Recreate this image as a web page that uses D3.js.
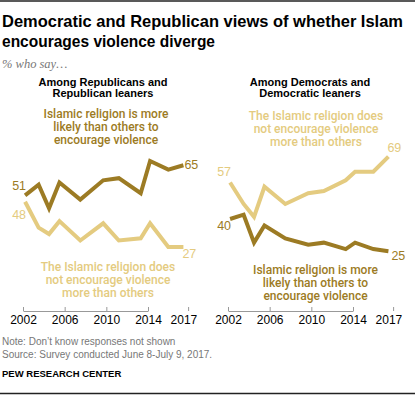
<!DOCTYPE html>
<html>
<head>
<meta charset="utf-8">
<script src="https://cdn.jsdelivr.net/npm/d3@7"></script>
<style>
  body { margin: 0; background: #fff; }
  svg { display: block; font-family: Arial, 'Liberation Sans', sans-serif; }
</style>
</head>
<body>
<div class="container"></div>
<script>
// survey dates (decimal years)
const surveyDates = [2002.2, 2003.5, 2004.5, 2005.5, 2007.5, 2009.7, 2011.2, 2013.3, 2014.2, 2015.95, 2017.4];
const tickYears = [2002, 2006, 2010, 2014];
const lastYearLabel = '2017';

// Republicans and Republican leaners
const repMoreLikely = [51, 56, 45, 57, 49, 58, 59, 52, 67, 63, 65];
const repNotMore = [48, 36, 33, 39, 30, 38, 30, 31, 38, 27, 27];

// Democrats and Democratic leaners
const demNotMore = [57, 47, 41, 55, 47, 52, 53, 58, 62, 62, 69];
const demMoreLikely = [40, 42, 29, 37, 31, 28, 29, 26, 29, 26, 25];

const titleLines = ['Democratic and Republican views of whether Islam', 'encourages violence diverge'];
const subtitle = '% who say…';
const panelTitles = [['Among Republicans and', 'Republican leaners'], ['Among Democrats and', 'Democratic leaners']];
const moreLikelyText = ['Islamic religion is more', 'likely than others to', 'encourage violence'];
const notMoreText = ['The Islamic religion does', 'not encourage violence', 'more than others'];
const notes = ['Note: Don\u2019t know responses not shown', 'Source: Survey conducted June 8-July 9, 2017.'];
const credit = 'PEW RESEARCH CENTER';

const width = 415, height = 396;
const dark = '#9c7b24', light = '#e4cb80';

const svg = d3.select('.container')
    .append('svg')
    .attr('width', width)
    .attr('height', height);

svg.append('line')
    .attr('x1', 0).attr('x2', width)
    .attr('y1', 1).attr('y2', 1)
    .attr('stroke', '#222').attr('stroke-width', 1.5);

svg.append('line')
    .attr('x1', 0).attr('x2', width)
    .attr('y1', 393.5).attr('y2', 393.5)
    .attr('stroke', '#222').attr('stroke-width', 1.5);

const titleWidths = [401, 213];
svg.append('g')
    .selectAll('text')
    .data(titleLines)
    .join('text')
    .attr('x', 2)
    .attr('y', (d, i) => 27 + i * 20)
    .attr('font-size', 16.5)
    .attr('font-weight', 'bold')
    .attr('fill', '#000')
    .attr('textLength', (d, i) => titleWidths[i])
    .attr('lengthAdjust', 'spacingAndGlyphs')
    .text(d => d);

svg.append('text')
    .attr('x', 2)
    .attr('y', 68)
    .attr('font-family', 'Georgia, "Liberation Serif", serif')
    .attr('font-style', 'italic')
    .attr('font-size', 12.5)
    .attr('fill', '#777')
    .text(subtitle);

const y = d3.scaleLinear().domain([0, 100]).range([305, 90]);

function multiline(g, lines, cx, y0, color, size, weight, lh, family) {
    g.append('text')
        .attr('text-anchor', 'middle')
        .attr('font-size', size)
        .attr('font-weight', weight)
        .attr('font-family', family || null)
        .attr('fill', color)
        .selectAll('tspan')
        .data(lines)
        .join('tspan')
        .attr('x', cx)
        .attr('y', (d, i) => y0 + i * lh)
        .text(d => d);
}

function panel(offset, heading, topSeries, bottomSeries, topColor, bottomColor, topText, bottomText, opts) {
    const g = svg.append('g').attr('transform', `translate(${offset},0)`);
    const x = d3.scaleLinear().domain([2002, 2014]).range([23, 148]);
    const axisEnd = 2017.85;

    const axis = d3.axisBottom(x)
        .tickValues(tickYears.concat([axisEnd]))
        .tickSize(-4)
        .tickSizeOuter(0)
        .tickPadding(4.5)
        .tickFormat((d, i) => i === tickYears.length ? lastYearLabel : d);

    const ax = g.append('g')
        .attr('transform', 'translate(0,311)')
        .call(axis);
    ax.select('.domain').attr('stroke', '#999');
    ax.selectAll('.tick line').attr('stroke', '#999');
    ax.selectAll('.tick text')
        .attr('font-size', 12)
        .attr('font-family', 'Arial, "Liberation Sans", sans-serif')
        .attr('fill', '#000');
    ax.selectAll('.tick text')
        .filter((d, i) => i === tickYears.length)
        .attr('x', x(surveyDates[surveyDates.length - 1]) - x(axisEnd));

    multiline(g, heading, opts.headX, 86, '#000', 11, 'bold', 10.8);

    const line = d3.line()
        .x((d, i) => x(surveyDates[i]))
        .y(d => y(d));

    [[bottomSeries, bottomColor], [topSeries, topColor]].forEach(([s, c]) => {
        g.append('path')
            .datum(s)
            .attr('fill', 'none')
            .attr('stroke', c)
            .attr('stroke-width', 4)
            .attr('stroke-linejoin', 'miter')
            .attr('d', line);
    });

    const annFont = 'Roboto, Arial, sans-serif';
    multiline(g, topText, opts.topX, opts.topY, topColor, 12, 500, 13, annFont);
    multiline(g, bottomText, opts.botX, opts.botY, bottomColor, 12, 500, 13, annFont);

    const n = surveyDates.length - 1;
    const labels = [
        {v: topSeries[0], x: x(surveyDates[0]) + 1, y: y(topSeries[0]) + opts.topStartDy, anchor: 'end', c: topColor},
        {v: bottomSeries[0], x: x(surveyDates[0]) + 1, y: y(bottomSeries[0]) + opts.botStartDy, anchor: 'end', c: bottomColor},
        {v: topSeries[n], x: x(surveyDates[n]) + opts.topEndDx, y: y(topSeries[n]) + opts.topEndDy, anchor: 'start', c: topColor},
        {v: bottomSeries[n], x: x(surveyDates[n]) + opts.botEndDx, y: y(bottomSeries[n]) + opts.botEndDy, anchor: 'start', c: bottomColor}
    ];
    g.append('g')
        .selectAll('text')
        .data(labels)
        .join('text')
        .attr('x', d => d.x)
        .attr('y', d => d.y)
        .attr('text-anchor', d => d.anchor)
        .attr('font-size', 12.5)
        .attr('fill', d => d.c)
        .text(d => d.v);
}

panel(0, panelTitles[0], repMoreLikely, repNotMore, dark, light, moreLikelyText, notMoreText, {
    headX: 103, topX: 106, topY: 118, botX: 108, botY: 271,
    topStartDy: -5, botStartDy: 17, topEndDx: 1, topEndDy: 4, botEndDx: -1, botEndDy: 11
});

panel(205, panelTitles[1], demNotMore, demMoreLikely, light, dark, notMoreText, moreLikelyText, {
    headX: 105, topX: 111, topY: 120, botX: 110.5, botY: 274,
    topStartDy: -6, botStartDy: 11, topEndDx: -1, topEndDy: -5, botEndDx: 3, botEndDy: 9
});

svg.append('g')
    .selectAll('text')
    .data(notes)
    .join('text')
    .attr('x', 2)
    .attr('y', (d, i) => 345 + i * 13.3)
    .attr('font-size', 10)
    .attr('fill', '#777')
    .text(d => d);

svg.append('text')
    .attr('x', 2)
    .attr('y', 377)
    .attr('font-size', 9.5)
    .attr('font-weight', 'bold')
    .attr('fill', '#000')
    .text(credit);
</script>
</body>
</html>
